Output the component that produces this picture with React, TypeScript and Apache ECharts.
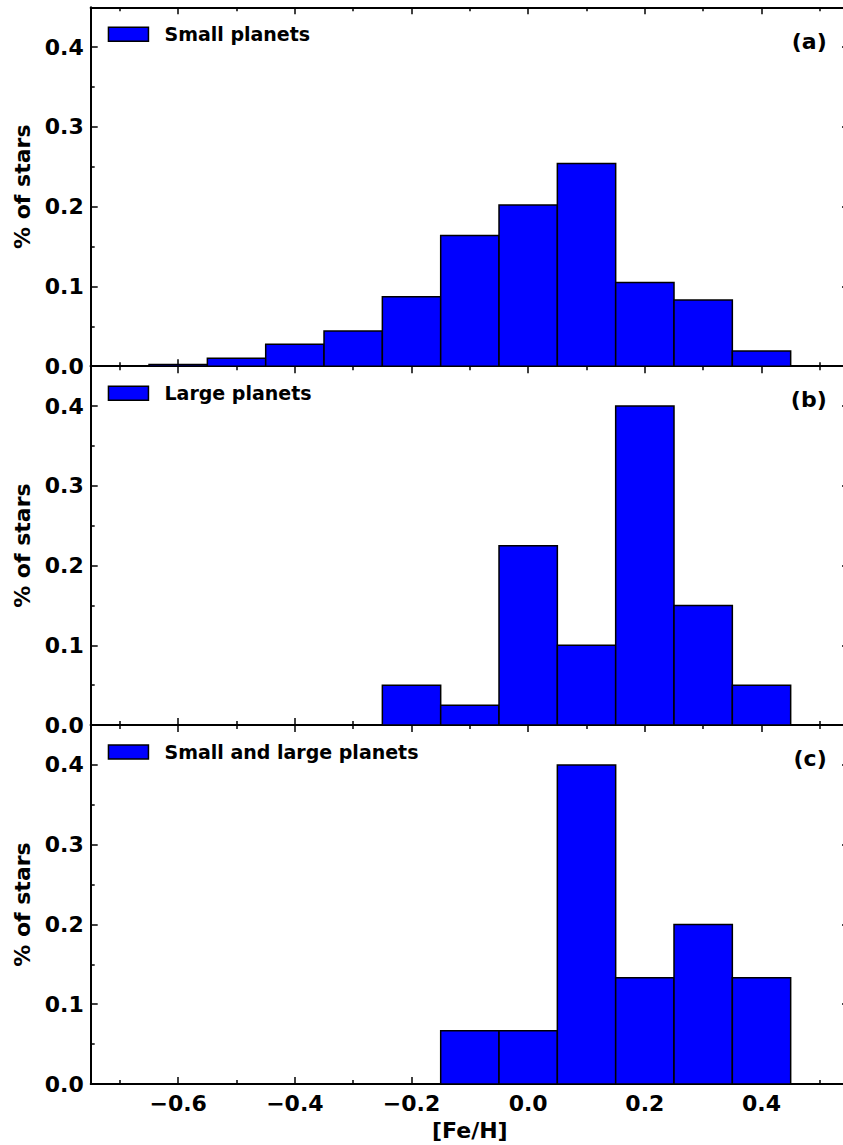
import React, { useEffect, useRef } from "react";
import * as echarts from "echarts";

// ---- data ----
const binCenters = [-0.6, -0.5, -0.4, -0.3, -0.2, -0.1, 0.0, 0.1, 0.2, 0.3, 0.4];
const smallPlanets = [0.002, 0.01, 0.0275, 0.044, 0.087, 0.164, 0.202, 0.254, 0.105, 0.083, 0.019];
const largePlanets = [0, 0, 0, 0, 0.05, 0.025, 0.225, 0.1, 0.4, 0.15, 0.05];
const bothPlanets = [0, 0, 0, 0, 0, 0.0667, 0.0667, 0.4, 0.1333, 0.2, 0.1333];
const seriesNames = ["Small planets", "Large planets", "Small and large planets"];
const panelTags = ["(a)", "(b)", "(c)"];
const xMajor = [-0.6, -0.4, -0.2, 0.0, 0.2, 0.4];
const xMinor = [-0.7, -0.5, -0.3, -0.1, 0.1, 0.3, 0.5];
const yMajor = [0.0, 0.1, 0.2, 0.3, 0.4];
const yMinor = [0.05, 0.15, 0.25, 0.35];
const binWidth = 0.1;
const X_MIN = -0.75;
const X_MAX = 0.55;
const Y_MIN = 0;
const Y_MAX = 0.45;

const FONT = "DejaVu Sans";
const panelValues = [smallPlanets, largePlanets, bothPlanets];

const fmtX = (v: number) => {
  const s = Math.abs(v).toFixed(1);
  return v < -1e-9 ? "\u2212" + s : s;
};

export default function App() {
  const ref = useRef<HTMLDivElement>(null);
  useEffect(() => {
    if (!ref.current) return;
    const chart = echarts.init(ref.current, undefined, { renderer: "svg" });

    const gridLeft = 90.7;
    const gridRight = 849;
    const top0 = 7.3;
    const bottomAll = 1084;
    const ph = (bottomAll - top0) / 3;

    const grids: any[] = [];
    const xAxes: any[] = [];
    const yAxes: any[] = [];
    const series: any[] = [];
    const legends: any[] = [];
    const graphics: any[] = [];

    const lineStyle = { color: "#000", width: 2 };
    const tickStyle = { color: "#000", width: 1.5 };

    for (let g = 0; g < 3; g++) {
      const top = top0 + g * ph;
      grids.push({ left: gridLeft, top, width: gridRight - gridLeft, height: ph, show: false });
      const isLast = g === 2;
      const baseX = {
        type: "value",
        gridIndex: g,
        min: X_MIN,
        max: X_MAX,
        splitLine: { show: false },
      };
      xAxes.push({
        ...baseX,
        position: "bottom",
        axisLine: { show: true, onZero: false, lineStyle },
        axisTick: { show: true, inside: true, length: 7, lineStyle: tickStyle, customValues: xMajor },
        axisLabel: {
          show: isLast,
          customValues: xMajor,
          formatter: fmtX,
          color: "#000",
          fontFamily: FONT,
          fontWeight: "bold",
          fontSize: 22,
          margin: 8,
        },
        name: isLast ? "[Fe/H]" : "",
        nameLocation: "middle",
        nameGap: 35,
        nameTextStyle: { color: "#000", fontFamily: FONT, fontWeight: "bold", fontSize: 22 },
      });
      xAxes.push({
        ...baseX,
        position: "bottom",
        axisLine: { show: false, onZero: false },
        axisTick: { show: true, inside: true, length: 4, lineStyle: tickStyle, customValues: xMinor },
        axisLabel: { show: false },
      });
      xAxes.push({
        ...baseX,
        position: "top",
        axisLine: { show: true, onZero: false, lineStyle },
        axisTick: { show: true, inside: true, length: 7, lineStyle: tickStyle, customValues: xMajor },
        axisLabel: { show: false },
      });
      xAxes.push({
        ...baseX,
        position: "top",
        axisLine: { show: false, onZero: false },
        axisTick: { show: true, inside: true, length: 4, lineStyle: tickStyle, customValues: xMinor },
        axisLabel: { show: false },
      });

      const baseY = {
        type: "value",
        gridIndex: g,
        min: Y_MIN,
        max: Y_MAX,
        splitLine: { show: false },
      };
      yAxes.push({
        ...baseY,
        position: "left",
        axisLine: { show: true, onZero: false, lineStyle },
        axisTick: { show: true, inside: true, length: 7, lineStyle: tickStyle, customValues: yMajor },
        axisLabel: {
          show: true,
          customValues: yMajor,
          formatter: (v: number) => v.toFixed(1),
          color: "#000",
          fontFamily: FONT,
          fontWeight: "bold",
          fontSize: 22,
          margin: 7,
        },
        name: "% of stars",
        nameLocation: "middle",
        nameGap: 54,
        nameTextStyle: { color: "#000", fontFamily: FONT, fontWeight: "bold", fontSize: 22 },
      });
      yAxes.push({
        ...baseY,
        position: "left",
        axisLine: { show: false, onZero: false },
        axisTick: { show: true, inside: true, length: 4, lineStyle: tickStyle, customValues: yMinor },
        axisLabel: { show: false },
      });
      yAxes.push({
        ...baseY,
        position: "right",
        axisLine: { show: false, onZero: false },
        axisTick: { show: true, inside: true, length: 7, lineStyle: tickStyle, customValues: yMajor },
        axisLabel: { show: false },
      });

      const vals = panelValues[g];
      const data: number[][] = [];
      binCenters.forEach((c, i) => {
        if (vals[i] > 0) data.push([c, vals[i]]);
      });
      series.push({
        type: "custom",
        name: seriesNames[g],
        xAxisIndex: g * 4,
        yAxisIndex: g * 3,
        itemStyle: { color: "#0000ff", borderColor: "#000", borderWidth: 1.5 },
        encode: { x: 0, y: 1 },
        data,
        z: 1,
        renderItem: (params: any, api: any) => {
          const x = api.value(0);
          const y = api.value(1);
          const p0 = api.coord([x - binWidth / 2, y]);
          const p1 = api.coord([x + binWidth / 2, 0]);
          return {
            type: "rect",
            shape: { x: p0[0], y: p0[1], width: p1[0] - p0[0], height: p1[1] - p0[1] },
            style: { fill: "#0000ff", stroke: "#000", lineWidth: 1.5 },
          };
        },
      });

      legends.push({
        data: [seriesNames[g]],
        left: 107.7,
        top: top + 17.5,
        padding: 0,
        icon: "rect",
        itemWidth: 40,
        itemHeight: 14,
        itemStyle: { color: "#0000ff", borderColor: "#000", borderWidth: 1.5 },
        textStyle: {
          color: "#000",
          fontFamily: FONT,
          fontWeight: "bold",
          fontSize: 19,
          padding: [0, 0, 0, 11],
        },
        selectedMode: false,
      });

      graphics.push({
        type: "text",
        x: 826.7,
        y: top + 33.7,
        style: {
          text: panelTags[g],
          fill: "#000",
          font: `bold 22px "${FONT}"`,
          textAlign: "right",
          textVerticalAlign: "middle",
        },
      });
    }

    chart.setOption({
      animation: false,
      backgroundColor: "#fff",
      grid: grids,
      xAxis: xAxes,
      yAxis: yAxes,
      series,
      legend: legends,
      graphic: graphics,
    });
    return () => chart.dispose();
  }, []);

  return (
    <div
      style={{
        position: "absolute",
        left: 0,
        top: 0,
        width: 843,
        height: 1145,
        overflow: "hidden",
        background: "#fff",
      }}
    >
      <div ref={ref} style={{ width: 900, height: 1145 }} />
    </div>
  );
}
